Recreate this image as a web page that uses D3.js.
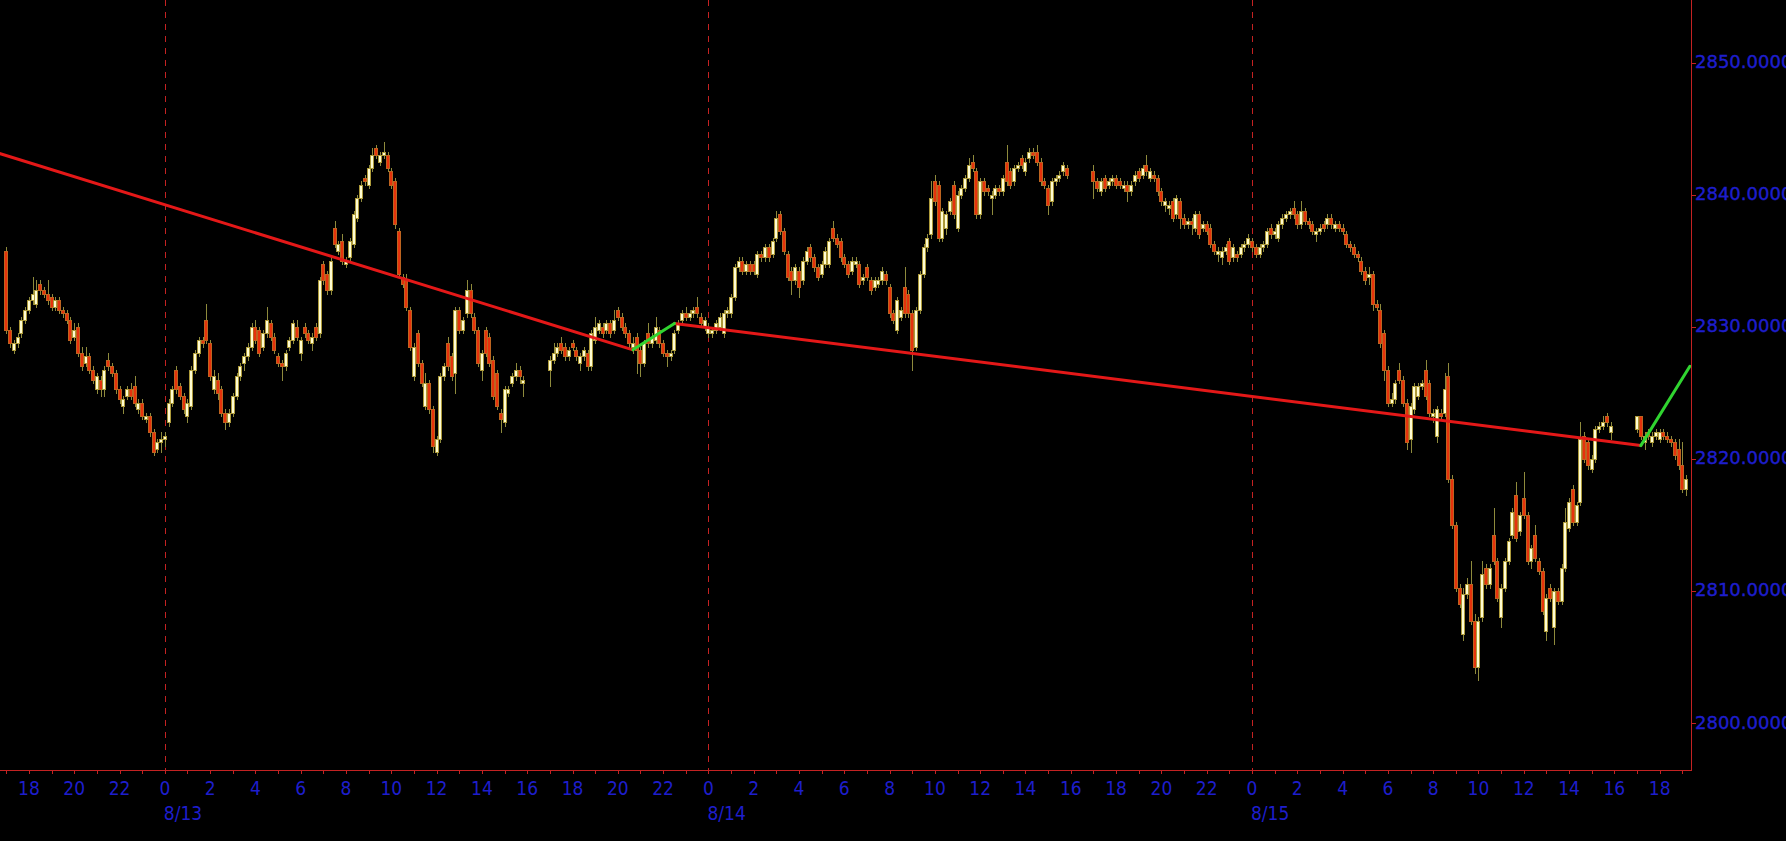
<!DOCTYPE html>
<html><head><meta charset="utf-8">
<script src="https://cdn.jsdelivr.net/npm/d3@7"></script>
<style>html,body{margin:0;padding:0;background:#000;overflow:hidden}</style>
</head><body>
<svg id="c" width="1786" height="841"></svg>
<script>
// ---- data ----
const sessionStarts = ["2018-08-12T17:00:00Z","2018-08-13T17:00:00Z","2018-08-14T17:00:00Z","2018-08-15T17:00:00Z"];
const barMinutes = 10;
// [open, high, low, close]
const session1 = [
[2835.75,2836.0,2829.5,2829.75],[2829.75,2830.0,2828.5,2828.75],[2828.25,2829.0,2828.0,2828.75],[2828.75,2829.5,2828.5,2829.25],
[2829.5,2830.75,2829.25,2830.5],[2830.5,2831.5,2830.25,2831.25],[2831.25,2832.25,2831.0,2832.0],[2832.0,2833.75,2831.75,2832.5],
[2831.75,2833.5,2831.5,2832.75],[2833.25,2833.5,2832.5,2832.75],[2832.75,2833.0,2832.25,2832.5],[2832.5,2833.5,2831.75,2832.0],
[2832.25,2832.5,2831.25,2831.5],[2831.5,2832.25,2831.25,2832.0],[2832.0,2832.25,2831.0,2831.25],[2831.25,2831.5,2830.75,2831.0],
[2831.0,2831.25,2830.25,2830.5],[2830.5,2830.75,2828.75,2829.0],[2829.25,2830.25,2829.0,2829.75],[2830.0,2830.25,2827.75,2828.0],
[2828.0,2828.5,2826.75,2827.0],[2827.25,2828.5,2827.0,2827.75],[2827.75,2828.0,2826.5,2826.75],[2826.75,2827.0,2825.75,2826.0],
[2825.25,2826.5,2825.0,2826.25],[2826.0,2826.25,2824.75,2825.25],[2825.25,2827.0,2824.75,2826.75],[2827.5,2828.0,2826.75,2827.0],
[2827.0,2827.25,2826.25,2826.5],[2826.5,2826.75,2825.0,2825.25],[2825.25,2825.5,2824.25,2824.5],[2824.0,2824.75,2823.5,2824.5],
[2824.75,2825.5,2824.5,2825.25],[2825.25,2825.75,2824.5,2824.75],[2825.5,2826.25,2824.0,2824.25],[2823.75,2824.5,2823.5,2824.25],
[2824.25,2824.5,2823.0,2823.25],[2823.0,2823.5,2822.75,2823.25],[2823.25,2823.5,2821.75,2822.0],[2822.0,2822.25,2820.25,2820.5],
[2820.75,2821.5,2820.5,2821.25],[2821.25,2822.0,2820.5,2821.5],[2821.5,2822.0,2821.0,2821.75],[2822.75,2824.5,2822.5,2824.25],
[2824.25,2825.5,2824.0,2825.25],[2826.75,2827.0,2825.0,2825.25],[2825.5,2825.75,2824.5,2824.75],[2824.75,2825.0,2823.5,2823.75],
[2823.25,2824.5,2822.75,2824.25],[2824.0,2827.0,2823.75,2826.75],[2826.75,2828.25,2826.5,2828.0],[2828.0,2829.25,2827.75,2829.0],
[2829.0,2829.25,2828.5,2828.75],[2830.5,2831.75,2828.75,2829.0],[2828.75,2829.0,2826.0,2826.25],[2825.25,2826.75,2825.0,2826.25],
[2826.0,2826.5,2824.5,2825.0],[2825.25,2825.5,2823.25,2823.5],[2823.5,2823.75,2822.25,2822.75],[2822.75,2823.75,2822.5,2823.5],
[2823.5,2825.0,2823.25,2824.75],[2824.75,2826.5,2824.5,2826.25],[2826.25,2827.25,2826.0,2827.0],[2827.25,2828.0,2826.75,2827.75],
[2827.75,2828.75,2827.5,2828.5],[2828.5,2830.25,2828.25,2830.0],[2830.0,2830.5,2828.75,2829.0],[2829.75,2830.0,2827.75,2828.0],
[2828.5,2829.75,2828.25,2829.5],[2829.5,2831.5,2829.25,2830.5],[2830.25,2830.5,2829.0,2829.25],[2829.25,2829.5,2828.0,2828.25],
[2827.75,2828.0,2827.0,2827.25],[2827.25,2827.5,2826.0,2827.0],[2827.0,2828.25,2826.75,2828.0],[2828.5,2829.25,2828.25,2829.0],
[2829.0,2830.5,2828.75,2830.25],[2830.0,2830.5,2829.0,2829.25],[2828.0,2829.25,2827.5,2829.0],[2830.0,2830.25,2829.25,2829.5],
[2829.5,2829.75,2828.75,2829.0],[2828.75,2829.5,2828.25,2829.25],[2830.0,2830.25,2829.0,2829.25],[2829.5,2833.75,2829.25,2833.5],
[2834.75,2835.0,2833.25,2833.5],[2834.0,2834.25,2832.5,2832.75],[2832.75,2835.25,2832.5,2835.0],[2837.5,2838.0,2836.0,2836.25],
[2835.75,2836.5,2835.5,2836.25],[2836.5,2837.0,2834.75,2835.0],[2834.75,2835.25,2834.5,2835.0],[2835.25,2836.75,2835.0,2836.5],
[2836.25,2838.75,2836.0,2838.5],[2838.25,2840.0,2838.0,2839.75],[2839.75,2841.0,2839.5,2840.75],[2841.25,2841.5,2840.75,2841.0],
[2840.75,2842.25,2840.5,2842.0],[2842.0,2843.5,2841.75,2843.0],[2843.5,2843.75,2842.75,2843.0],[2842.5,2843.25,2842.25,2843.0],
[2843.0,2844.0,2842.75,2843.25],[2843.0,2843.25,2841.75,2842.0],[2841.75,2842.0,2840.5,2840.75],[2841.0,2841.25,2837.5,2837.75],
[2837.25,2837.5,2833.75,2834.0],[2833.75,2834.0,2833.0,2833.25],[2833.5,2834.0,2831.25,2831.5],[2831.25,2831.5,2828.25,2828.5],
[2826.25,2828.75,2826.0,2828.5],[2829.5,2829.75,2827.0,2827.25],[2827.25,2827.5,2825.5,2825.75],[2824.0,2826.5,2823.75,2825.75],
[2825.75,2826.0,2823.5,2823.75],[2823.75,2824.0,2820.5,2821.0],[2820.5,2821.75,2820.25,2821.5],[2821.5,2826.5,2821.25,2826.25],
[2826.25,2827.25,2826.0,2827.0],[2828.75,2829.25,2826.75,2827.0],[2827.75,2828.0,2826.0,2826.25],[2826.5,2831.5,2825.0,2831.25],
[2831.25,2831.5,2829.5,2829.75],[2829.75,2830.75,2829.5,2830.5],[2831.0,2833.5,2830.75,2832.75],[2832.75,2833.25,2830.75,2831.0],
[2830.75,2831.0,2829.5,2829.75],[2829.75,2830.0,2827.0,2827.25],[2826.75,2828.25,2826.0,2828.0],[2829.75,2830.0,2827.75,2828.0],
[2829.25,2829.5,2827.0,2827.25],[2827.5,2827.75,2824.5,2824.75],[2826.5,2826.75,2823.75,2824.0],[2823.5,2823.75,2822.0,2823.0],
[2822.75,2825.5,2822.5,2825.25],[2825.0,2825.5,2824.75,2825.25],[2825.75,2826.5,2825.5,2826.25],[2826.25,2827.25,2826.0,2826.75],
[2826.75,2827.0,2825.75,2826.25],[2825.75,2826.25,2824.75,2826.0]
];
const session2 = [
[2826.75,2827.75,2825.5,2827.5],[2827.5,2828.75,2827.25,2828.0],[2828.0,2828.75,2827.75,2828.5],[2828.75,2829.25,2828.0,2828.25],
[2828.5,2828.75,2827.5,2827.75],[2827.75,2828.5,2827.5,2828.25],[2828.75,2829.0,2828.25,2828.5],[2828.25,2828.5,2827.5,2827.75],
[2827.25,2828.0,2826.75,2827.75],[2827.75,2828.5,2827.5,2828.25],[2828.0,2828.25,2826.75,2827.0],[2827.0,2829.75,2826.75,2829.5],
[2829.0,2830.75,2828.75,2830.0],[2829.75,2830.5,2829.5,2830.25],[2830.0,2830.25,2829.25,2829.5],[2829.75,2830.5,2829.5,2830.25],
[2830.25,2830.5,2829.25,2829.5],[2829.75,2831.25,2829.5,2830.5],[2831.25,2831.5,2830.5,2830.75],[2830.75,2831.0,2829.75,2830.0],
[2830.0,2830.25,2829.25,2829.5],[2829.5,2829.75,2828.5,2828.75],[2828.5,2829.25,2828.0,2828.75],[2829.25,2829.5,2826.5,2828.25],
[2828.25,2828.5,2826.25,2827.25],[2827.25,2829.0,2827.0,2828.75],[2829.5,2830.25,2828.5,2828.75],[2828.75,2829.5,2828.5,2829.25],
[2829.0,2830.75,2828.75,2830.0],[2829.75,2830.0,2828.5,2828.75],[2828.75,2829.0,2827.75,2828.0],[2828.0,2828.25,2827.0,2827.75],
[2827.75,2828.25,2827.5,2828.0],[2828.25,2829.75,2828.0,2829.5],[2829.75,2830.5,2829.5,2830.25],[2830.5,2831.25,2830.25,2831.0],
[2831.0,2831.5,2830.5,2830.75],[2830.75,2831.25,2830.5,2831.0],[2831.0,2831.5,2830.75,2831.25],[2831.5,2832.25,2830.75,2831.0],
[2830.75,2831.0,2830.0,2830.25],[2830.0,2830.75,2829.75,2830.5],[2829.5,2830.25,2829.25,2830.0],[2829.5,2830.0,2829.25,2829.75],
[2829.75,2830.5,2829.5,2830.25],[2830.0,2831.0,2829.75,2830.75],[2829.5,2831.25,2829.25,2831.0],[2831.0,2831.5,2830.75,2831.25],
[2831.0,2832.5,2830.75,2832.25],[2832.25,2834.75,2832.0,2834.5],[2834.5,2835.25,2834.25,2835.0],[2835.0,2835.25,2834.0,2834.25],
[2834.25,2835.0,2834.0,2834.75],[2834.75,2835.0,2834.0,2834.25],[2834.75,2835.0,2834.0,2834.25],[2834.0,2835.75,2833.75,2835.5],
[2835.5,2835.75,2835.0,2835.25],[2835.25,2836.25,2835.0,2836.0],[2836.0,2836.25,2835.0,2835.25],[2835.5,2836.75,2835.25,2836.5],
[2836.75,2838.75,2836.5,2838.25],[2838.5,2838.75,2837.0,2837.25],[2837.25,2837.5,2835.5,2835.75],[2835.5,2835.75,2833.5,2833.75],
[2834.25,2834.5,2832.5,2833.5],[2833.5,2834.75,2833.25,2834.5],[2834.25,2834.5,2832.25,2833.0],[2833.5,2835.25,2833.25,2835.0],
[2835.0,2836.0,2834.75,2835.75],[2836.0,2836.25,2835.0,2835.25],[2835.25,2835.5,2834.25,2834.5],[2834.5,2834.75,2833.5,2833.75],
[2834.0,2835.0,2833.75,2834.75],[2834.75,2836.0,2834.5,2835.75],[2834.75,2836.75,2834.5,2836.5],[2837.5,2838.0,2836.5,2836.75],
[2836.75,2837.0,2836.0,2836.25],[2836.5,2836.75,2835.0,2835.25],[2835.25,2835.5,2834.5,2834.75],[2834.75,2835.0,2833.75,2834.0],
[2834.25,2835.25,2834.0,2835.0],[2834.75,2835.25,2834.5,2835.0],[2834.75,2835.0,2833.0,2833.25],[2833.5,2834.0,2833.25,2833.75],
[2834.5,2834.75,2833.5,2833.75],[2833.5,2833.75,2832.5,2832.75],[2833.0,2833.75,2832.75,2833.5],[2833.25,2833.75,2833.0,2833.5],
[2833.5,2834.5,2833.25,2834.25],[2834.0,2834.25,2833.25,2833.5],[2833.0,2833.25,2830.75,2831.0],[2831.0,2831.25,2830.25,2830.5],
[2829.75,2832.25,2829.5,2832.0],[2830.75,2831.5,2830.5,2831.25],[2833.0,2834.5,2830.75,2831.0],[2832.5,2832.75,2830.75,2831.0],
[2831.0,2831.25,2826.75,2828.25],[2828.5,2831.5,2828.25,2831.25],[2831.25,2834.25,2831.0,2834.0],[2834.0,2836.25,2833.75,2836.0],
[2836.0,2837.0,2835.75,2836.75],[2837.0,2841.0,2836.75,2839.75],[2841.0,2841.5,2839.25,2839.5],[2840.75,2841.0,2836.5,2836.75],
[2836.75,2839.0,2836.5,2838.75],[2837.5,2838.75,2837.0,2838.5],[2838.75,2839.75,2838.5,2839.5],[2840.75,2841.0,2838.25,2838.5],
[2837.5,2840.25,2837.25,2840.0],[2840.0,2840.75,2839.75,2840.5],[2840.5,2841.5,2840.25,2841.25],[2841.25,2842.75,2841.0,2842.25],
[2842.5,2843.0,2841.75,2842.0],[2841.75,2842.0,2838.25,2838.5],[2838.5,2841.25,2838.25,2841.0],[2841.0,2841.25,2840.0,2840.25],
[2840.5,2840.75,2840.0,2840.25],[2839.75,2840.25,2838.5,2840.0],[2840.0,2840.75,2839.75,2840.5],[2840.5,2840.75,2840.0,2840.25],
[2840.25,2841.5,2840.0,2841.25],[2842.5,2843.75,2840.75,2841.0],[2841.75,2842.0,2840.5,2840.75],[2841.0,2842.25,2840.75,2842.0],
[2842.0,2842.5,2841.75,2842.25],[2842.75,2843.0,2842.0,2842.25],[2841.75,2842.75,2841.5,2842.5],[2842.75,2843.5,2842.5,2843.25],
[2843.25,2843.5,2842.75,2843.0],[2843.25,2843.75,2842.25,2842.5],[2842.5,2842.75,2840.75,2841.0],[2841.0,2841.25,2840.5,2840.75],
[2840.5,2840.75,2838.5,2839.25],[2839.5,2841.25,2839.25,2841.0],[2841.0,2841.5,2840.75,2841.25],[2841.25,2841.75,2841.0,2841.5],
[2841.75,2842.5,2841.5,2842.25],[2842.0,2842.25,2841.25,2841.5]
];
const session3 = [
[2841.75,2842.25,2839.75,2841.0],[2841.0,2841.25,2840.25,2840.5],[2840.25,2841.25,2840.0,2841.0],[2841.25,2841.5,2840.25,2840.5],
[2840.75,2841.25,2840.5,2841.0],[2841.0,2841.5,2840.75,2841.25],[2841.25,2841.5,2840.5,2840.75],[2841.0,2841.25,2840.5,2840.75],
[2840.5,2841.0,2840.25,2840.75],[2840.75,2841.0,2839.5,2840.25],[2840.25,2841.0,2840.0,2840.75],[2841.0,2841.75,2840.75,2841.5],
[2841.75,2842.0,2841.0,2841.25],[2841.5,2842.25,2841.25,2842.0],[2842.25,2843.0,2841.5,2841.75],[2841.25,2842.0,2841.0,2841.75],
[2841.5,2841.75,2841.0,2841.25],[2841.25,2841.5,2840.0,2840.25],[2840.25,2840.5,2839.25,2839.5],[2839.25,2839.75,2838.75,2839.5],
[2839.0,2839.5,2838.5,2839.25],[2839.5,2839.75,2838.0,2838.25],[2838.5,2840.0,2838.25,2839.75],[2839.5,2839.75,2837.5,2838.25],
[2838.25,2838.5,2837.5,2837.75],[2837.75,2838.25,2837.5,2838.0],[2838.0,2838.25,2837.0,2837.75],[2837.5,2838.75,2837.25,2838.5],
[2838.5,2838.75,2836.75,2837.0],[2837.5,2838.0,2837.25,2837.75],[2837.75,2838.0,2837.0,2837.25],[2837.5,2837.75,2836.0,2836.25],
[2836.25,2836.5,2835.5,2835.75],[2835.5,2836.0,2835.0,2835.75],[2835.25,2836.0,2834.75,2835.75],[2835.75,2836.25,2835.5,2836.0],
[2836.5,2836.75,2834.75,2835.0],[2835.25,2836.25,2835.0,2836.0],[2835.5,2835.75,2835.0,2835.25],[2835.5,2836.25,2835.25,2836.0],
[2836.0,2836.5,2835.75,2836.25],[2836.25,2837.0,2836.0,2836.75],[2836.5,2836.75,2835.75,2836.0],[2836.0,2836.25,2835.25,2835.5],
[2835.5,2836.25,2835.25,2836.0],[2836.0,2836.5,2835.75,2836.25],[2836.25,2837.5,2836.0,2837.25],[2837.5,2837.75,2836.75,2837.0],
[2837.0,2837.5,2836.75,2837.25],[2836.75,2838.0,2836.5,2837.75],[2837.75,2838.5,2837.5,2838.25],[2838.25,2838.75,2838.0,2838.5],
[2838.5,2839.0,2838.25,2838.75],[2839.0,2839.5,2838.25,2838.5],[2838.5,2838.75,2837.5,2837.75],[2837.75,2839.5,2837.5,2838.75],
[2838.75,2839.0,2837.75,2838.0],[2838.0,2838.25,2837.5,2837.75],[2837.75,2838.0,2837.0,2837.25],[2837.0,2837.5,2836.5,2837.25],
[2837.25,2837.75,2837.0,2837.5],[2837.75,2838.0,2837.25,2837.5],[2837.75,2838.5,2837.5,2838.25],[2838.25,2838.5,2837.5,2837.75],
[2837.5,2838.0,2837.25,2837.75],[2837.75,2838.0,2837.25,2837.5],[2837.5,2837.75,2837.0,2837.25],[2837.0,2837.25,2836.0,2836.25],
[2836.25,2836.5,2835.75,2836.0],[2836.0,2836.25,2835.25,2835.5],[2835.5,2835.75,2835.0,2835.25],[2835.0,2835.25,2834.0,2834.25],
[2834.25,2834.5,2833.25,2833.5],[2833.75,2834.5,2833.25,2834.0],[2834.0,2834.25,2831.25,2831.75],[2831.75,2832.0,2831.25,2831.5],
[2831.25,2831.75,2828.5,2828.75],[2829.5,2829.75,2826.0,2826.75],[2826.75,2827.0,2824.0,2824.25],[2824.25,2825.0,2824.0,2824.5],
[2824.5,2826.0,2824.25,2825.75],[2826.75,2827.25,2825.75,2826.0],[2826.0,2826.25,2824.0,2824.25],[2824.25,2824.5,2820.75,2821.25],
[2821.5,2824.25,2820.5,2824.0],[2823.75,2825.75,2823.5,2825.5],[2824.75,2825.75,2824.5,2825.5],[2825.5,2826.0,2825.25,2825.75],
[2826.75,2827.5,2824.5,2824.75],[2825.75,2826.0,2823.25,2823.5],[2823.25,2823.75,2822.75,2823.5],[2821.75,2824.0,2821.25,2823.75],
[2823.5,2823.75,2823.0,2823.25],[2823.5,2826.5,2823.25,2825.25],[2826.25,2827.25,2818.25,2818.5],[2818.5,2818.75,2814.75,2815.0],
[2815.0,2815.25,2810.0,2810.25],[2810.25,2810.5,2808.75,2809.0],[2806.75,2810.25,2806.25,2809.75],[2809.75,2811.0,2809.5,2810.5],
[2810.5,2812.25,2807.5,2807.75],[2807.75,2808.25,2803.75,2804.25],[2804.25,2808.0,2803.25,2807.75],[2808.0,2812.25,2807.75,2811.25],
[2811.75,2812.0,2810.25,2810.5],[2810.5,2812.0,2810.25,2811.75],[2814.25,2816.25,2812.0,2812.25],[2812.25,2812.5,2809.25,2809.5],
[2808.0,2810.5,2807.25,2810.25],[2810.25,2812.5,2810.0,2812.25],[2812.25,2814.0,2812.0,2813.75],[2814.25,2816.25,2814.0,2816.0],
[2817.25,2818.25,2813.75,2814.0],[2814.5,2816.0,2814.25,2815.75],[2817.0,2819.0,2815.5,2815.75],[2815.75,2816.0,2812.0,2812.25],
[2812.25,2813.5,2811.75,2813.25],[2814.25,2815.0,2812.25,2812.5],[2812.25,2812.5,2811.25,2811.5],[2811.5,2811.75,2808.25,2808.5],
[2807.0,2809.75,2806.25,2809.5],[2810.25,2810.5,2809.25,2809.5],[2807.25,2810.25,2806.0,2810.0],[2810.0,2810.25,2809.0,2809.25],
[2809.25,2812.0,2809.0,2811.75],[2811.75,2816.25,2811.5,2815.25],[2814.75,2817.0,2814.5,2816.75],[2817.75,2818.0,2815.0,2815.25],
[2815.25,2816.75,2815.0,2816.5],[2816.75,2822.75,2816.5,2821.5],[2821.75,2822.0,2819.75,2820.0],[2821.25,2821.5,2819.25,2819.5],
[2819.25,2820.25,2819.0,2820.0],[2820.0,2822.5,2819.75,2822.25],[2822.25,2822.75,2822.0,2822.5],[2822.5,2823.25,2822.25,2822.75],
[2823.25,2823.5,2822.5,2822.75],[2822.0,2822.75,2821.5,2822.5]
];
const session4 = [
[2822.25,2823.25,2822.0,2823.25],[2823.25,2823.25,2821.5,2821.75],[2821.25,2822.0,2820.75,2821.75],[2822.0,2822.25,2821.5,2821.75],
[2821.25,2822.0,2821.0,2821.75],[2821.75,2822.25,2821.5,2822.0],[2821.5,2822.25,2821.25,2822.0],[2822.0,2822.25,2821.5,2821.75],
[2821.75,2822.0,2821.25,2821.5],[2821.5,2821.75,2821.0,2821.25],[2821.25,2821.5,2820.0,2820.25],[2820.75,2821.5,2819.25,2819.5],
[2819.5,2821.25,2817.5,2817.75],[2817.75,2818.75,2817.25,2818.5]
];
// zigzag overlay pivots [time, price]
const zigRed1   = [["2018-08-12T16:40:00Z",2843.13],["2018-08-13T20:40:00Z",2828.25]];
const zigGreen1 = [["2018-08-13T20:40:00Z",2828.25],["2018-08-13T22:30:00Z",2830.25]];
const zigRed2   = [["2018-08-13T22:30:00Z",2830.25],["2018-08-15T17:10:00Z",2821.0]];
const zigGreen2 = [["2018-08-15T17:10:00Z",2821.0],["2018-08-15T19:20:00Z",2827.0]];
const yTicks = [2800,2810,2820,2830,2840,2850];
const dayLabels = [["2018-08-13T00:00:00Z","8/13"],["2018-08-14T00:00:00Z","8/14"],["2018-08-15T00:00:00Z","8/15"]];

// ---- layout ----
const W = 1786, H = 841;
const plotRight = 1691, plotBottom = 770;
const axisColor = "#c42222";
const labelColor = "#1e1ecc";

const x = d3.scaleUtc()
  .domain([new Date("2018-08-12T16:43:20Z"), new Date("2018-08-15T19:23:00Z")])
  .range([0, plotRight]);
const y = d3.scaleLinear().domain([2800, 2850]).range([723, 62.5]);

const svg = d3.select("#c");
svg.append("rect").attr("width", W).attr("height", H).attr("fill", "#000");
svg.append("defs").append("clipPath").attr("id", "clip")
  .append("rect").attr("x", 0).attr("y", 0).attr("width", plotRight).attr("height", plotBottom);

// day separators
svg.append("g").selectAll("line").data(dayLabels).join("line")
  .attr("x1", d => Math.round(x(new Date(d[0]))) + 0.5)
  .attr("x2", d => Math.round(x(new Date(d[0]))) + 0.5)
  .attr("y1", 0).attr("y2", plotBottom)
  .attr("stroke", axisColor).attr("stroke-width", 1).attr("stroke-dasharray", "6,6");

// bars
const bars = [];
[session1, session2, session3, session4].forEach((s, si) => {
  const t0 = new Date(sessionStarts[si]).getTime();
  s.forEach((b, i) => bars.push({t: new Date(t0 + i * barMinutes * 60000), o: b[0], h: b[1], l: b[2], c: b[3]}));
});

const gBars = svg.append("g").attr("clip-path", "url(#clip)");
const upFill = "#fffcd2", upStroke = "#ad9a3a", dnFill = "#e6320c", dnStroke = "#bd6420", wick = "#8e8a3c";

gBars.selectAll("line.w").data(bars).join("line").attr("class", "w")
  .attr("x1", d => Math.round(x(d.t)) + 0.5).attr("x2", d => Math.round(x(d.t)) + 0.5)
  .attr("y1", d => Math.round(y(d.h))).attr("y2", d => Math.round(y(d.l)) + 1)
  .attr("stroke", wick).attr("stroke-width", 1);

gBars.selectAll("rect.b").data(bars).join("rect").attr("class", "b")
  .attr("x", d => Math.round(x(d.t)) - 1.5)
  .attr("width", 3)
  .attr("y", d => Math.round(y(Math.max(d.o, d.c))) + 0.5)
  .attr("height", d => Math.max(1, Math.round(y(Math.min(d.o, d.c))) - Math.round(y(Math.max(d.o, d.c)))))
  .attr("fill", d => d.c >= d.o ? upFill : dnFill)
  .attr("stroke", d => d.c >= d.o ? upStroke : dnStroke)
  .attr("stroke-width", 1);

// zigzag lines
const line = d3.line().x(d => x(new Date(d[0]))).y(d => y(d[1]));
const gLines = svg.append("g").attr("clip-path", "url(#clip)");
[[zigRed1, "#e41818"], [zigRed2, "#e41818"], [zigGreen1, "#30d430"], [zigGreen2, "#30d430"]].forEach(([pts, col]) => {
  gLines.append("path").attr("d", line(pts)).attr("fill", "none")
    .attr("stroke", col).attr("stroke-width", 3).attr("stroke-linecap", "round");
});

// axes lines
svg.append("line").attr("x1", 0).attr("x2", plotRight + 0.5).attr("y1", plotBottom + 0.5).attr("y2", plotBottom + 0.5)
  .attr("stroke", axisColor).attr("stroke-width", 1);
svg.append("line").attr("x1", plotRight + 0.5).attr("x2", plotRight + 0.5).attr("y1", 0).attr("y2", plotBottom + 1)
  .attr("stroke", axisColor).attr("stroke-width", 1);

// x axis ticks & labels
const hours = x.ticks(d3.utcHour.every(1)).filter(t => x(t) >= 0 && x(t) <= plotRight);
const gx = svg.append("g");
gx.selectAll("line").data(hours).join("line")
  .attr("x1", d => Math.round(x(d)) + 0.5).attr("x2", d => Math.round(x(d)) + 0.5)
  .attr("y1", plotBottom + 1).attr("y2", plotBottom + 4)
  .attr("stroke", axisColor).attr("stroke-width", 1);
const xFont = "'DejaVu Sans Condensed', 'DejaVu Sans', sans-serif";
gx.selectAll("text.h").data(hours.filter(t => t.getUTCHours() % 2 === 0)).join("text").attr("class", "h")
  .attr("x", d => x(d)).attr("y", 795)
  .attr("text-anchor", "middle")
  .attr("font-family", xFont)
  .attr("font-size", 19).attr("fill", labelColor)
  .text(d => d.getUTCHours());
gx.selectAll("text.day").data(dayLabels).join("text").attr("class", "day")
  .attr("x", d => x(new Date(d[0])) - 1).attr("y", 820)
  .attr("text-anchor", "start")
  .attr("font-family", xFont)
  .attr("font-size", 19).attr("fill", labelColor)
  .text(d => d[1]);

// y axis ticks & labels
const gy = svg.append("g");
gy.selectAll("line").data(yTicks).join("line")
  .attr("x1", plotRight + 1).attr("x2", plotRight + 5)
  .attr("y1", d => Math.round(y(d)) + 0.5).attr("y2", d => Math.round(y(d)) + 0.5)
  .attr("stroke", axisColor).attr("stroke-width", 1);
gy.selectAll("text").data(yTicks).join("text")
  .attr("x", 1695).attr("y", d => y(d) - 1)
  .attr("dominant-baseline", "central")
  .attr("font-family", "'DejaVu Sans', Verdana, sans-serif")
  .attr("font-size", 18).attr("fill", labelColor)
  .attr("stroke", labelColor).attr("stroke-width", 0.4)
  .text(d => d3.format(".4f")(d));
</script>
</body></html>
